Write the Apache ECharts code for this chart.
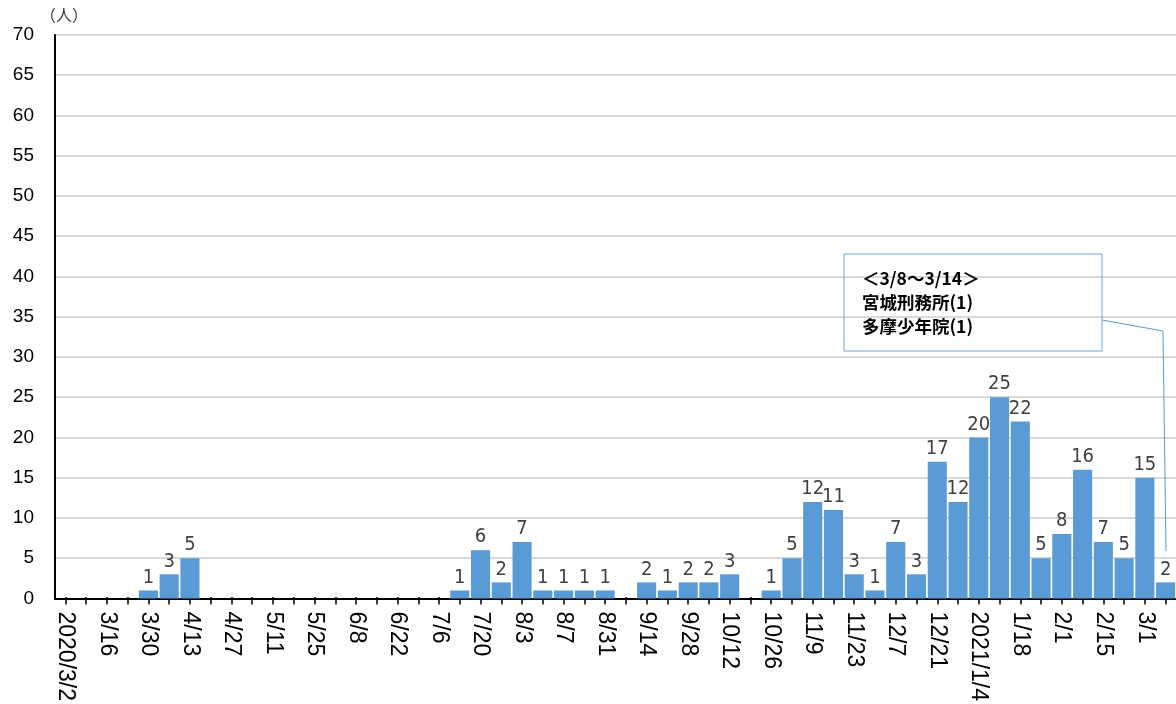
<!DOCTYPE html>
<html>
<head>
<meta charset="utf-8">
<script src="https://cdn.jsdelivr.net/npm/echarts@6/dist/echarts.min.js"></script>
<style>
html,body{margin:0;padding:0;background:#fff;}
#chart{width:1176px;height:704px;}
</style>
</head>
<body>
<div id="chart"></div>
<script>
// weekly categories (label shown every other week)
const categories = [
  "2020/3/2","3/9","3/16","3/23","3/30","4/6","4/13","4/20","4/27","5/4",
  "5/11","5/18","5/25","6/1","6/8","6/15","6/22","6/29","7/6","7/13",
  "7/20","7/27","8/3","8/10","8/7","8/24","8/31","9/7","9/14","9/21",
  "9/28","10/5","10/12","10/19","10/26","11/2","11/9","11/16","11/23","11/30",
  "12/7","12/14","12/21","12/28","2021/1/4","1/11","1/18","1/25","2/1","2/8",
  "2/15","2/22","3/1","3/8"
];
const values = [
  0,0,0,0,1,3,5,0,0,0,
  0,0,0,0,0,0,0,0,0,1,
  6,2,7,1,1,1,1,0,2,1,
  2,2,3,0,1,5,12,11,3,1,
  7,3,17,12,20,25,22,5,8,16,
  7,5,15,2
];
const yTicks = {min: 0, max: 70, interval: 5};
const unitLabel = "（人）";
const noteLines = ["＜3/8～3/14＞", "宮城刑務所(1)", "多摩少年院(1)"];

const chart = echarts.init(document.getElementById('chart'), null, {renderer: 'canvas'});
const gridBox = {left: 55, right: -6, top: 35, bottom: 104};
const option = {
  animation: false,
  backgroundColor: '#ffffff',
  grid: [
    Object.assign({containLabel: false}, gridBox),
    Object.assign({containLabel: false}, gridBox)
  ],
  xAxis: [{
    type: 'category',
    gridIndex: 0,
    data: categories,
    boundaryGap: true,
    axisLine: {lineStyle: {color: '#000', width: 2}},
    axisTick: {show: true, alignWithLabel: true, interval: 0, length: 6, lineStyle: {color: '#000', width: 1.5}},
    axisLabel: {
      interval: 1, rotate: -90, margin: 13,
      color: '#000', fontSize: 23,
      fontFamily: 'Liberation Sans, Arial, sans-serif'
    },
    splitLine: {show: false}
  }, {
    type: 'category',
    gridIndex: 1,
    data: categories,
    boundaryGap: true,
    axisLine: {show: false},
    axisTick: {show: true, inside: true, alignWithLabel: true, interval: 0, length: 3, lineStyle: {color: '#000', width: 1.5}},
    axisLabel: {show: false},
    splitLine: {show: false}
  }],
  yAxis: [{
    type: 'value',
    gridIndex: 0,
    min: yTicks.min, max: yTicks.max, interval: yTicks.interval,
    axisLine: {show: true, lineStyle: {color: '#000', width: 2}},
    axisTick: {show: false},
    axisLabel: {color: '#000', fontSize: 19, margin: 21, fontFamily: 'Liberation Sans, Arial, sans-serif'},
    splitLine: {show: true, lineStyle: {color: '#D9D9D9', width: 2}}
  }, {
    type: 'value',
    gridIndex: 1,
    min: yTicks.min, max: yTicks.max, interval: yTicks.interval,
    show: false
  }],
  series: [{
    type: 'bar',
    xAxisIndex: 0, yAxisIndex: 0,
    data: values,
    barCategoryGap: '8%',
    itemStyle: {color: '#5B9BD5'},
    label: {
      show: true, position: 'top', distance: 3,
      color: '#404040', fontSize: 20,
      fontFamily: 'Liberation Sans Narrow, DejaVu Sans Condensed, Liberation Sans, sans-serif',
      formatter: p => (p.value ? String(p.value) : '')
    }
  }]
};
chart.setOption(option);

// annotation callout
const lastIdx = categories.length - 1;
const tip = chart.convertToPixel({xAxisIndex: 0, yAxisIndex: 0}, [lastIdx, values[lastIdx]]);
const boxX = 844, boxY = 254, boxW = 258, boxH = 97;
chart.setOption({
  graphic: [
    {
      type: 'text', left: 40, top: 7,
      style: {text: unitLabel, fill: '#404040', font: '16px "Noto Sans CJK JP", sans-serif'}
    },
    {
      type: 'rect', shape: {x: boxX, y: boxY, width: boxW, height: boxH},
      style: {fill: 'rgba(255,255,255,0)', stroke: '#6FA8DC', lineWidth: 1}, z: 10
    },
    {
      type: 'text', x: boxX + 18, y: boxY + 12,
      style: {
        text: noteLines.join('\n'), fill: '#000',
        font: 'bold 17.5px "Noto Sans CJK JP", sans-serif', lineHeight: 24
      }, z: 11
    },
    {
      type: 'polyline',
      shape: {points: [[boxX + boxW, boxY + 66], [1163, 331], [Math.round(tip[0]), Math.round(tip[1]) - 31]]},
      style: {stroke: '#5B9BD5', lineWidth: 1, fill: null}, z: 10
    }
  ]
});
</script>
</body>
</html>
